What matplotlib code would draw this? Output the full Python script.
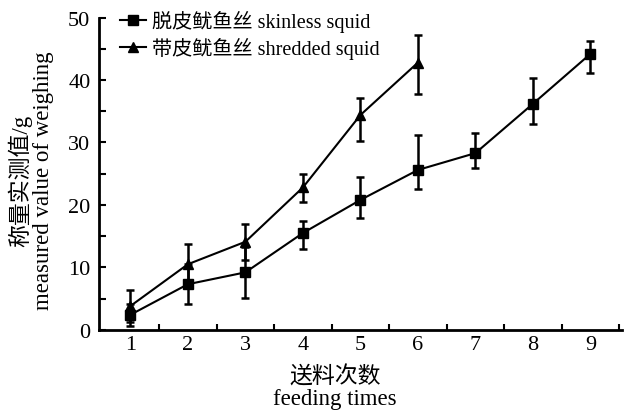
import numpy as np
import matplotlib
matplotlib.use('Agg')
import matplotlib.pyplot as plt
from matplotlib.lines import Line2D

plt.rcParams['font.family'] = ['Liberation Serif', 'Noto Sans CJK SC']

# feeding times
feed = [1, 2, 3, 4, 5, 6, 7, 8, 9]

# skinless squid (squares)
skinless = [2.4, 7.3, 9.2, 15.5, 20.8, 25.6, 28.3, 36.2, 44.2]
skinless_lo = [1.8, 3.2, 4.1, 2.5, 2.9, 3.1, 2.4, 3.2, 3.0]
skinless_hi = [1.8, 3.2, 4.1, 2.0, 3.7, 5.6, 3.2, 4.2, 2.1]

# shredded squid (triangles)
shredded_x = [1, 2, 3, 4, 5, 6]
shredded = [3.8, 10.5, 14.1, 22.8, 34.4, 42.8]
shredded_lo = [2.5, 3.3, 2.9, 2.3, 4.2, 5.0]
shredded_hi = [2.5, 3.3, 2.8, 2.2, 2.7, 4.4]

fig = plt.figure(figsize=(6.29, 4.14), dpi=100)
ax = fig.add_axes([0.157, 0.201, 0.832, 0.754])

ax.errorbar(feed, skinless, yerr=[skinless_lo, skinless_hi], color='black',
            marker='s', markersize=7, linewidth=1.5, elinewidth=1.8,
            capsize=3, capthick=1.8)
ax.errorbar(shredded_x, shredded, yerr=[shredded_lo, shredded_hi], color='black',
            marker='^', markersize=7, linewidth=1.5, elinewidth=1.8,
            capsize=3, capthick=1.8)

ax.set_xlim(0.45, 9.55)
ax.set_ylim(0, 50)

# tick marks between categories, labels on categories
ax.set_xticks([1.5, 2.5, 3.5, 4.5, 5.5, 6.5, 7.5, 8.5, 9.5])
ax.set_xticklabels([])
ax.set_xticks(feed, minor=True)
ax.set_xticklabels([str(v) for v in feed], minor=True)
ax.tick_params(axis='x', which='major', direction='in', length=4, width=1.5)
ax.tick_params(axis='x', which='minor', length=0, pad=4, labelsize=16)

ax.set_yticks([0, 10, 20, 30, 40, 50])
ax.set_yticks([5, 15, 25, 35, 45], minor=True)
ax.tick_params(axis='y', which='both', direction='in', length=5, width=1.5, labelsize=16, pad=6)

for s in ['top', 'right']:
    ax.spines[s].set_visible(False)
for s in ['left', 'bottom']:
    ax.spines[s].set_linewidth(2)

ax.set_ylabel('称量实测值/g\nmeasured value of weighing', fontsize=16.5, linespacing=1.05)
ax.yaxis.set_label_coords(-0.086, 0.48)
ax.set_xlabel('送料次数\nfeeding times', fontsize=16.5, linespacing=1.05)
ax.xaxis.set_label_coords(0.451, -0.114)
ax.xaxis.label.set_va('top')

handles = [Line2D([], [], color='black', marker='s', markersize=7, linewidth=1.5),
           Line2D([], [], color='black', marker='^', markersize=7, linewidth=1.5)]
labels = ['脱皮鱿鱼丝 skinless squid', '带皮鱿鱼丝 shredded squid']
ax.legend(handles, labels, loc='upper left', frameon=False, fontsize=14.5,
          handlelength=1.25, handletextpad=0.3, borderaxespad=0.0,
          labelspacing=0.25, bbox_to_anchor=(0.026, 1.05))

fig.savefig('out.png', dpi=100)
